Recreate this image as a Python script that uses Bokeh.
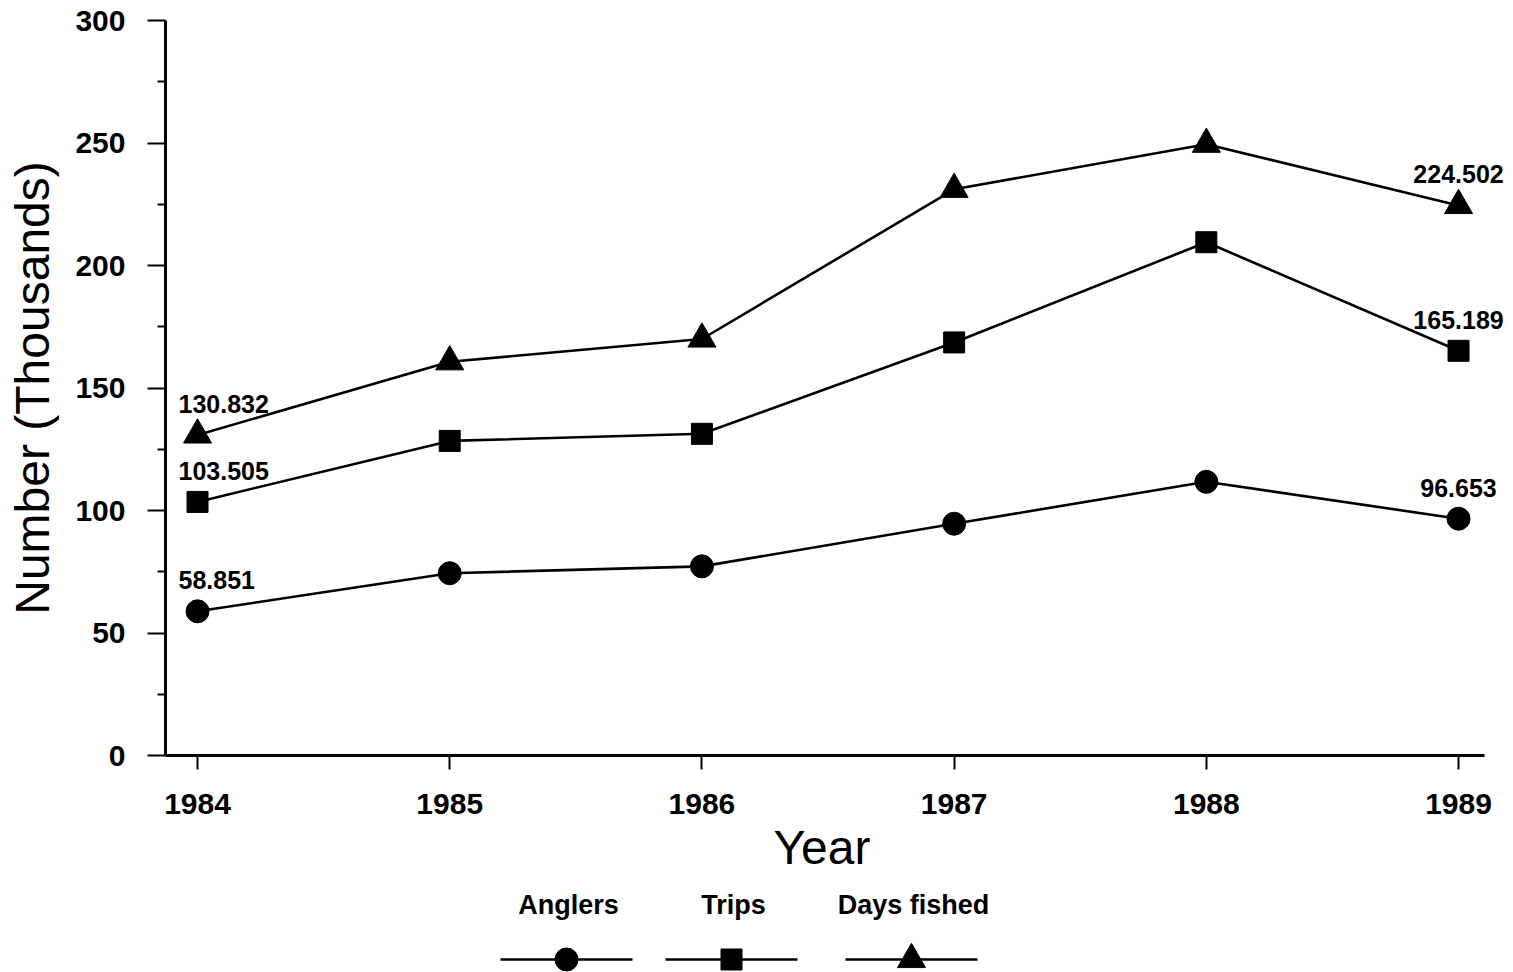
from bokeh.plotting import figure
from bokeh.models import Range1d, FixedTicker, LabelSet, ColumnDataSource, Title
from bokeh.layouts import column
from bokeh.core.properties import value
from bokeh.embed import file_html
from bokeh.resources import INLINE

# ---- data ----
years = [1984, 1985, 1986, 1987, 1988, 1989]
anglers = [58.851, 74.4, 77.2, 94.6, 111.7, 96.653]
trips = [103.505, 128.4, 131.3, 168.6, 209.5, 165.189]
days_fished = [130.832, 160.7, 170.0, 231.1, 249.5, 224.502]
series_names = ["Anglers", "Trips", "Days fished"]
series_markers = ["circle", "square", "triangle"]
y_ticks = [0, 50, 100, 150, 200, 250, 300]
y_minor_ticks = [25, 75, 125, 175, 225, 275]

FONT = "Liberation Sans"
LEFT = 165
FRAME_W = 1345
X_START, X_AXIS_END, X_END = 1983.873, 1989.103, 1989.206

p = figure(frame_width=FRAME_W, frame_height=735,
           min_border_left=LEFT, min_border_right=0,
           min_border_top=20, min_border_bottom=125,
           x_range=Range1d(X_START, X_END), y_range=Range1d(0, 300),
           output_backend="svg", toolbar_location=None)
p.grid.visible = False
p.outline_line_color = None
p.background_fill_color = "white"
p.border_fill_color = "white"

xa = p.xaxis[0]
xa.ticker = FixedTicker(ticks=years)
xa.bounds = (X_START, X_AXIS_END)
xa.axis_line_width = 3
xa.axis_line_color = "black"
xa.major_tick_line_width = 2
xa.major_tick_out = 14
xa.major_tick_in = 0
xa.minor_tick_out = 0
xa.minor_tick_in = 0
xa.major_label_text_font = FONT
xa.major_label_text_font_size = "30px"
xa.major_label_text_font_style = "bold"
xa.major_label_text_color = "black"
xa.major_label_standoff = 24

# x-axis title, centred under the drawn axis (not the widened frame)
p.add_layout(Title(text="Year", align="left", offset=608, standoff=5,
                   text_font=FONT, text_font_size="48px",
                   text_font_style="normal", text_color="black"), "below")

ya = p.yaxis[0]
ya.ticker = FixedTicker(ticks=y_ticks, minor_ticks=y_minor_ticks)
ya.axis_line_width = 3
ya.axis_line_color = "black"
ya.major_tick_out = 18
ya.major_tick_in = 0
ya.minor_tick_out = 8
ya.minor_tick_in = 0
ya.major_tick_line_width = 2
ya.minor_tick_line_width = 2
ya.major_label_text_font = FONT
ya.major_label_text_font_size = "30px"
ya.major_label_text_font_style = "bold"
ya.major_label_text_color = "black"
ya.major_label_standoff = 22
ya.axis_label = "Number (Thousands)"
ya.axis_label_text_font = FONT
ya.axis_label_text_font_size = "48px"
ya.axis_label_text_font_style = "normal"
ya.axis_label_text_color = "black"
ya.axis_label_standoff = 13

all_series = [anglers, trips, days_fished]
marker_sizes = {"circle": 23, "square": 21, "triangle": 28}
for vals, mk in zip(all_series, series_markers):
    p.line(years, vals, line_color="black", line_width=2.6)
    p.scatter(years, vals, marker=mk, size=marker_sizes[mk],
              fill_color="black", line_color="black")

first_src = ColumnDataSource(dict(
    x=[years[0]] * 3,
    y=[s[0] for s in all_series],
    t=[f"{s[0]:.3f}" for s in all_series]))
last_src = ColumnDataSource(dict(
    x=[years[-1]] * 3,
    y=[s[-1] for s in all_series],
    t=[f"{s[-1]:.3f}" for s in all_series]))

lab_kw = dict(text_font=value(FONT), text_font_size="25px",
              text_font_style="bold", text_color="black",
              text_baseline="middle")
p.add_layout(LabelSet(x="x", y="y", text="t", source=first_src,
                      x_offset=-19, y_offset=31, text_align="left", **lab_kw))
p.add_layout(LabelSet(x="x", y="y", text="t", source=last_src,
                      x_offset=0, y_offset=31, text_align="center", **lab_kw))

# ---- legend strip (coordinates in page pixels) ----
LEG_TOP, LEG_BOTTOM = 880, 972
lg = figure(frame_width=FRAME_W, frame_height=LEG_BOTTOM - LEG_TOP,
            min_border_left=LEFT, min_border_right=0,
            min_border_top=0, min_border_bottom=0,
            x_range=Range1d(LEFT, LEFT + FRAME_W),
            y_range=Range1d(LEG_BOTTOM, LEG_TOP),
            x_axis_type=None, y_axis_type=None,
            output_backend="svg", toolbar_location=None)
lg.grid.visible = False
lg.outline_line_color = None
lg.border_fill_color = "white"
leg_cx = [566, 731, 911]
half_len = 66
text_y = 904
glyph_y = 959
for name, mk, cx in zip(series_names, series_markers, leg_cx):
    lg.segment(x0=[cx - half_len], y0=[glyph_y], x1=[cx + half_len], y1=[glyph_y],
               line_color="black", line_width=2.6)
    lg.scatter([cx], [glyph_y], marker=mk, size=marker_sizes[mk],
               fill_color="black", line_color="black")
    lg.text([cx + 2], [text_y], text=[name], text_font=value(FONT),
            text_font_size="27px", text_font_style="bold", text_color="black",
            text_align="center", text_baseline="middle")

layout = column(p, lg, spacing=0)
open("out.html", "w").write(file_html(layout, INLINE))
